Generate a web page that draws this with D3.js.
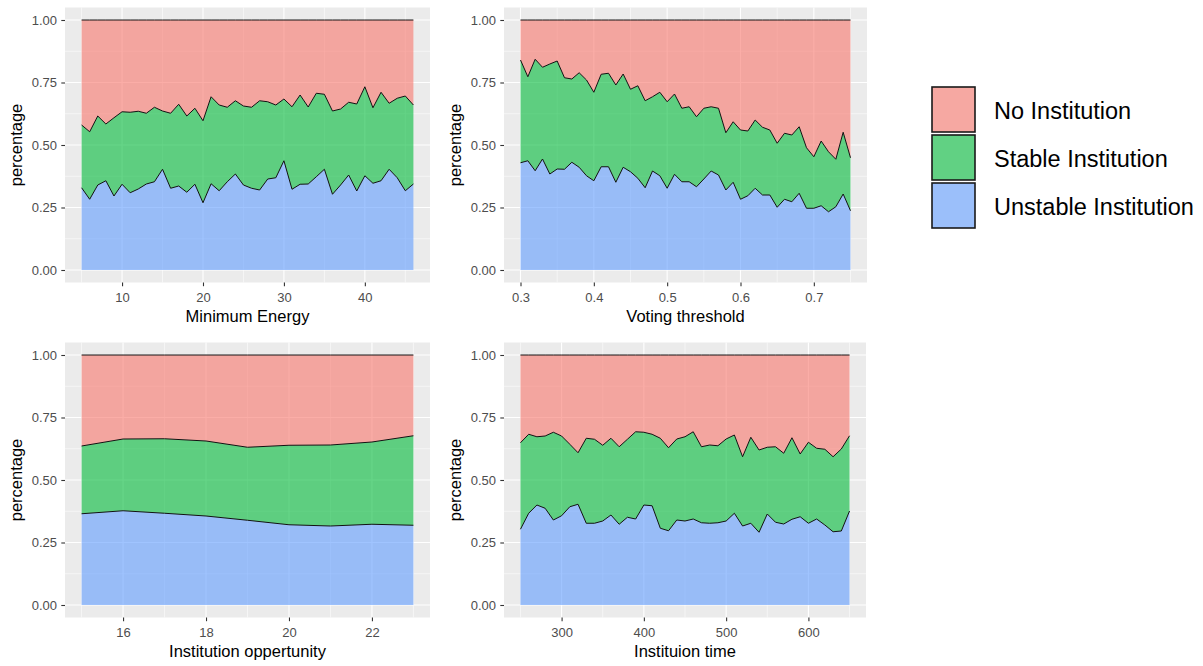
<!DOCTYPE html>
<html>
<head>
<meta charset="utf-8">
<script src="https://cdn.jsdelivr.net/npm/d3@7"></script>
<style>
  body { margin: 0; background: #ffffff; }
  text { font-family: "Liberation Sans", Arial, sans-serif; }
</style>
</head>
<body>
<svg id="chart" width="1203" height="666"></svg>
<script>
// ---- Data: share of runs ending with each outcome -------------------------
const outcomeKeys = ["unstable", "stable", "none"];
const outcomeLabels = ["Unstable Institution", "Stable Institution", "No Institution"];
const yTicks = [0, 0.25, 0.5, 0.75, 1];

// Minimum Energy
const energyX = [5,6,7,8,9,10,11,12,13,14,15,16,17,18,19,20,21,22,23,24,25,
  26,27,28,29,30,31,32,33,34,35,36,37,38,39,40,41,42,43,44,45,46];
const energyUnstable = [0.329,0.283,0.340,0.357,0.296,0.343,0.309,0.324,0.344,0.353,0.403,
  0.327,0.336,0.311,0.343,0.269,0.345,0.317,0.353,0.384,0.340,
  0.327,0.320,0.364,0.369,0.437,0.323,0.343,0.344,0.373,0.403,
  0.303,0.340,0.380,0.316,0.377,0.347,0.357,0.403,0.369,0.317,0.344];
const energyStable = [0.251,0.270,0.276,0.227,0.313,0.290,0.322,0.311,0.283,0.298,0.233,
  0.300,0.327,0.305,0.304,0.328,0.348,0.343,0.298,0.293,0.316,
  0.324,0.357,0.309,0.291,0.247,0.330,0.357,0.308,0.334,0.300,
  0.333,0.304,0.291,0.348,0.356,0.302,0.354,0.264,0.318,0.379,0.316];
const energyTicks = [10, 20, 30, 40];

// Voting threshold
const thresholdX = [0.30,0.31,0.32,0.33,0.34,0.35,0.36,0.37,0.38,0.39,0.40,0.41,0.42,
  0.43,0.44,0.45,0.46,0.47,0.48,0.49,0.50,0.51,0.52,0.53,0.54,0.55,0.56,0.57,0.58,0.59,
  0.60,0.61,0.62,0.63,0.64,0.65,0.66,0.67,0.68,0.69,0.70,0.71,0.72,0.73,0.74,0.75];
const thresholdUnstable = [0.429,0.437,0.397,0.444,0.384,0.404,0.403,0.431,0.411,0.377,
  0.357,0.413,0.413,0.351,0.411,0.393,0.367,0.329,0.396,0.377,0.327,0.383,0.353,
  0.353,0.333,0.364,0.396,0.380,0.320,0.351,0.283,0.297,0.327,0.300,0.300,0.251,
  0.283,0.273,0.307,0.247,0.247,0.257,0.233,0.253,0.304,0.237];
const thresholdStable = [0.411,0.336,0.446,0.367,0.440,0.432,0.366,0.333,0.378,0.383,
  0.354,0.370,0.374,0.389,0.373,0.330,0.370,0.348,0.297,0.334,0.346,0.321,0.294,
  0.300,0.280,0.283,0.257,0.267,0.229,0.242,0.277,0.259,0.273,0.271,0.260,0.256,
  0.264,0.267,0.266,0.242,0.206,0.259,0.240,0.190,0.247,0.212];
const thresholdTicks = [0.3, 0.4, 0.5, 0.6, 0.7];

// Institution opportunity
const opportunityX = [15,16,17,18,19,20,21,22,23];
const opportunityUnstable = [0.365,0.377,0.367,0.356,0.339,0.321,0.316,0.323,0.319];
const opportunityStable = [0.271,0.287,0.298,0.300,0.292,0.318,0.324,0.329,0.358];
const opportunityTicks = [16, 18, 20, 22];

// Institution time
const timeX = [250,260,270,280,290,300,310,320,330,340,350,360,370,380,390,400,410,
  420,430,440,450,460,470,480,490,500,510,520,530,540,550,560,570,580,590,600,610,
  620,630,640,650];
const timeUnstable = [0.303,0.367,0.400,0.387,0.340,0.357,0.393,0.403,0.327,0.327,
  0.336,0.360,0.323,0.351,0.344,0.400,0.397,0.307,0.297,0.340,0.336,0.344,0.329,
  0.327,0.329,0.336,0.367,0.316,0.327,0.291,0.364,0.331,0.324,0.343,0.353,0.327,
  0.344,0.320,0.293,0.296,0.376];
const timeStable = [0.346,0.316,0.273,0.289,0.351,0.319,0.250,0.206,0.340,0.336,
  0.303,0.307,0.310,0.312,0.349,0.291,0.286,0.360,0.332,0.324,0.337,0.349,0.304,
  0.313,0.308,0.328,0.313,0.277,0.344,0.329,0.267,0.302,0.283,0.326,0.251,0.324,
  0.283,0.303,0.300,0.328,0.301];
const timeTicks = [300, 400, 500, 600];

// ---- Appearance ------------------------------------------------------------
const fills = { none: "#F8766D", stable: "#00BA38", unstable: "#619CFF" };
const fillAlpha = 0.6;
const panelBg = "#EBEBEB";

const panels = [
  { x: energyX, u: energyUnstable, s: energyStable, ticks: energyTicks, fmt: d3.format("d"),
    title: "Minimum Energy", left: 65, right: 430, top: 7.5, bottom: 282.5 },
  { x: thresholdX, u: thresholdUnstable, s: thresholdStable, ticks: thresholdTicks, fmt: d3.format(".1f"),
    title: "Voting threshold", left: 504, right: 867, top: 7.5, bottom: 282.5 },
  { x: opportunityX, u: opportunityUnstable, s: opportunityStable, ticks: opportunityTicks, fmt: d3.format("d"),
    title: "Institution oppertunity", left: 65, right: 430, top: 342.5, bottom: 617.5 },
  { x: timeX, u: timeUnstable, s: timeStable, ticks: timeTicks, fmt: d3.format("d"),
    title: "Instituion time", left: 504, right: 866, top: 342.5, bottom: 617.5 }
];

const svg = d3.select("#chart");

function minorBreaks(majors, domain) {
  const step = majors[1] - majors[0];
  const out = [];
  for (let v = majors[0] - step / 2; v <= domain[1]; v += step) {
    if (v >= domain[0]) out.push(v);
  }
  return out;
}

panels.forEach(p => {
  const rows = p.x.map((xv, i) => ({
    x: xv,
    unstable: p.u[i],
    stable: p.s[i],
    none: 1 - p.u[i] - p.s[i]
  }));
  const ext = d3.extent(p.x);
  const pad = (ext[1] - ext[0]) * 0.05;
  const xDom = [ext[0] - pad, ext[1] + pad];
  const x = d3.scaleLinear().domain(xDom).range([p.left, p.right]);
  const y = d3.scaleLinear().domain([-0.05, 1.05]).range([p.bottom, p.top]);

  const g = svg.append("g");

  // panel background
  g.append("rect")
    .attr("x", p.left).attr("y", p.top)
    .attr("width", p.right - p.left).attr("height", p.bottom - p.top)
    .attr("fill", panelBg);

  // grid
  const yMinor = [0.125, 0.375, 0.625, 0.875];
  const xMinor = minorBreaks(p.ticks, xDom);
  g.selectAll(".ymin").data(yMinor).join("line")
    .attr("x1", p.left).attr("x2", p.right)
    .attr("y1", d => y(d)).attr("y2", d => y(d))
    .attr("stroke", "#fff").attr("stroke-width", 0.55);
  g.selectAll(".xmin").data(xMinor).join("line")
    .attr("y1", p.top).attr("y2", p.bottom)
    .attr("x1", d => x(d)).attr("x2", d => x(d))
    .attr("stroke", "#fff").attr("stroke-width", 0.55);
  g.selectAll(".ymaj").data(yTicks).join("line")
    .attr("x1", p.left).attr("x2", p.right)
    .attr("y1", d => y(d)).attr("y2", d => y(d))
    .attr("stroke", "#fff").attr("stroke-width", 1.1);
  g.selectAll(".xmaj").data(p.ticks).join("line")
    .attr("y1", p.top).attr("y2", p.bottom)
    .attr("x1", d => x(d)).attr("x2", d => x(d))
    .attr("stroke", "#fff").attr("stroke-width", 1.1);

  // stacked areas
  const series = d3.stack().keys(outcomeKeys)(rows);
  const area = d3.area().x(d => x(d.data.x)).y0(d => y(d[0])).y1(d => y(d[1]));
  const upper = d3.line().x(d => x(d.data.x)).y(d => y(d[1]));
  g.selectAll(".layer").data(series).join("path")
    .attr("d", area)
    .attr("fill", s => fills[s.key])
    .attr("fill-opacity", fillAlpha);
  g.selectAll(".edge").data(series).join("path")
    .attr("d", upper)
    .attr("fill", "none")
    .attr("stroke", "#111")
    .attr("stroke-width", 1)
    .attr("stroke-linejoin", "round");

  // axes
  const ax = g.append("g")
    .attr("transform", `translate(0,${p.bottom})`)
    .call(d3.axisBottom(x).tickValues(p.ticks).tickFormat(p.fmt).tickSize(3.7).tickPadding(6.5));
  const ay = g.append("g")
    .attr("transform", `translate(${p.left},0)`)
    .call(d3.axisLeft(y).tickValues(yTicks).tickFormat(d3.format(".2f")).tickSize(3.7).tickPadding(4.3));
  [ax, ay].forEach(a => {
    a.select(".domain").remove();
    a.selectAll(".tick line").attr("stroke", "#333333").attr("stroke-width", 1.1);
    a.selectAll(".tick text").attr("fill", "#4D4D4D")
      .style("font-size", "13px")
      .style("font-family", '"Liberation Sans", Arial, sans-serif');
  });

  // titles
  g.append("text")
    .attr("x", (p.left + p.right) / 2).attr("y", p.bottom + 39.5)
    .attr("text-anchor", "middle")
    .style("font-size", "16.5px").attr("fill", "#000")
    .text(p.title);
  g.append("text")
    .attr("transform", `translate(${p.left - 43.5},${(p.top + p.bottom) / 2}) rotate(-90)`)
    .attr("text-anchor", "middle")
    .style("font-size", "16.5px").attr("fill", "#000")
    .text("percentage");
});

// ---- Legend ----------------------------------------------------------------
const legendOrder = ["none", "stable", "unstable"];
const legend = svg.append("g");
legendOrder.forEach((k, i) => {
  const top = 87 + i * 48;
  legend.append("rect")
    .attr("x", 932).attr("y", top).attr("width", 43).attr("height", 45)
    .attr("fill", "#F2F2F2");
  legend.append("rect")
    .attr("x", 932).attr("y", top).attr("width", 43).attr("height", 45)
    .attr("fill", fills[k]).attr("fill-opacity", fillAlpha)
    .attr("stroke", "#1a1a1a").attr("stroke-width", 1.6);
  legend.append("text")
    .attr("x", 994).attr("y", top + 24)
    .attr("dy", "0.35em")
    .style("font-size", "23.5px").attr("fill", "#000")
    .text(outcomeLabels[outcomeKeys.indexOf(k)]);
});
</script>
</body>
</html>
